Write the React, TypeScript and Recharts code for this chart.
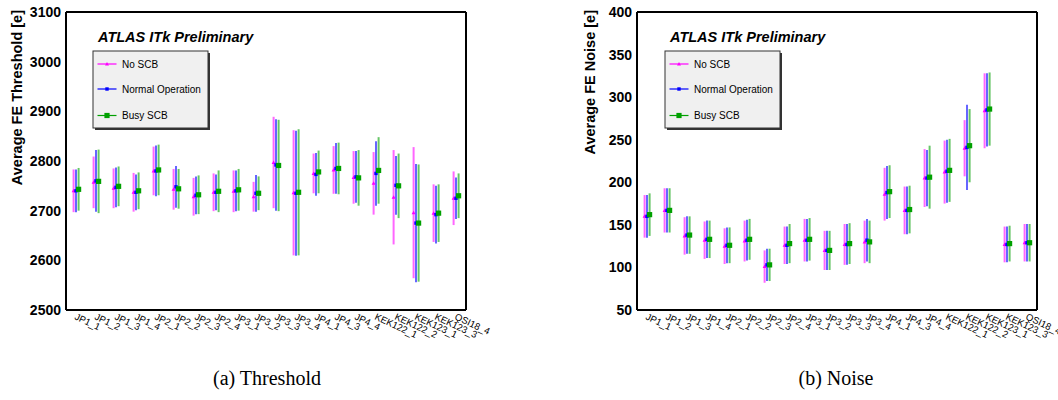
import { ScatterChart, Scatter, XAxis, YAxis, ErrorBar } from 'recharts'

const FONT = '"Liberation Sans", Arial, Helvetica, sans-serif'
const SERIF = '"Liberation Serif", "Times New Roman", serif'

/* ----------  bins  ---------- */
const binLabels = [
  'JP1_1', 'JP1_2', 'JP1_3', 'JP1_4',
  'JP2_1', 'JP2_2', 'JP2_3', 'JP2_4',
  'JP3_1', 'JP3_2', 'JP3_3', 'JP3_4',
  'JP4_1', 'JP4_3', 'JP4_4',
  'KEK122_1', 'KEK122_2', 'KEK123_1', 'KEK123_3',
  'QSI18_4',
]
const binIndex = binLabels.map((_, i) => i + 1)

/* ----------  threshold [e]  ---------- */
const thrNoScb = [2740, 2757, 2745, 2737, 2780, 2743, 2728, 2737, 2739, 2728, 2797, 2736, 2775, 2782, 2767, 2755, 2727, 2696, 2695, 2725]
const thrNoScbErr = [43, 52, 40, 39, 49, 41, 38, 38, 42, 30, 92, 126, 40, 48, 53, 63, 95, 132, 58, 54]
const thrNormal = [2740, 2760, 2747, 2737, 2780, 2748, 2731, 2737, 2740, 2735, 2792, 2735, 2773, 2785, 2768, 2775, 2751, 2675, 2692, 2725]
const thrNormalErr = [43, 62, 40, 36, 51, 42, 38, 36, 41, 37, 92, 126, 43, 51, 52, 65, 59, 119, 58, 42]
const thrBusy = [2743, 2759, 2749, 2740, 2782, 2744, 2732, 2739, 2742, 2735, 2791, 2737, 2778, 2785, 2766, 2781, 2750, 2675, 2695, 2730]
const thrBusyErr = [43, 64, 40, 37, 51, 40, 39, 42, 42, 34, 92, 127, 43, 52, 56, 67, 65, 118, 58, 45]

const thrTicks = [2500, 2600, 2700, 2800, 2900, 3000, 3100]
const thrMinor = Array.from({ length: 31 }, (_, i) => 2500 + i * 20)

/* ----------  noise [e]  ---------- */
const noiseNoScb = [160, 167, 137, 132, 125, 131, 101, 126, 132, 120, 127, 130, 186, 167, 205, 212, 240, 284, 127, 129]
const noiseNoScbErr = [25, 26, 22, 22, 21, 24, 19, 22, 25, 23, 24, 25, 31, 28, 34, 37, 33, 44, 21, 22]
const noiseNormal = [160, 167, 138, 133, 126, 132, 103, 126, 132, 120, 127, 132, 188, 167, 205, 213, 241, 285, 127, 129]
const noiseNormalErr = [25, 26, 22, 22, 21, 24, 19, 22, 25, 23, 24, 25, 31, 28, 33, 37, 50, 43, 21, 22]
const noiseBusy = [162, 167, 138, 133, 126, 133, 103, 128, 133, 120, 128, 130, 189, 168, 206, 214, 243, 286, 128, 129]
const noiseBusyErr = [25, 26, 22, 22, 21, 24, 19, 23, 25, 23, 24, 25, 31, 28, 37, 37, 43, 43, 21, 22]

const noiseTicks = [50, 100, 150, 200, 250, 300, 350, 400]
const noiseMinor = Array.from({ length: 36 }, (_, i) => 50 + i * 10)

/* ----------  Serien-Stil  ---------- */
const SERIES = [
  { name: 'No SCB', color: '#ff00ff', dx: -0.12, kind: 'tri' },
  { name: 'Normal Operation', color: '#0000ff', dx: 0, kind: 'sq' },
  { name: 'Busy SCB', color: '#00a000', dx: 0.13, kind: 'big' },
]

const rows = (means: number[], errs: number[], dx: number) =>
  means.map((y, i) => ({ x: binIndex[i] + dx, y, err: errs[i] }))

function Marker({ cx, cy, kind, color }: any) {
  if (cx == null || cy == null) return null
  if (kind === 'tri')
    return <polygon points={`${cx},${cy - 2} ${cx - 2},${cy + 1.5} ${cx + 2},${cy + 1.5}`} fill={color} />
  const s = kind === 'big' ? 2.6 : 1.7
  return <rect x={cx - s} y={cy - s} width={2 * s} height={2 * s} fill={color} />
}

function XTick({ x, y, payload }: any) {
  const name = binLabels[payload.value - 1]
  if (!name) return null
  return (
    <text
      transform={`translate(${x - 2},${y + 9}) rotate(25)`}
      fontSize={9.5}
      fontFamily={FONT}
      fill="#000"
      textAnchor="start"
    >
      {name}
    </text>
  )
}

interface PanelProps {
  left: number
  width: number
  axisWidth: number
  domain: [number, number]
  ticks: number[]
  minor: number[]
  data: { means: number[]; errs: number[] }[]
}

function Panel({ left, width, axisWidth, domain, ticks, minor, data }: PanelProps) {
  const frame = { stroke: '#000', strokeWidth: 2 }
  const tl = { stroke: '#000', strokeWidth: 1.5 }
  const xDom: [number, number] = [0.5, binLabels.length + 0.5]
  return (
    <div style={{ position: 'absolute', left, top: 0 }}>
      <ScatterChart
        width={width}
        height={400}
        margin={{ top: 12, right: width - axisWidth - 400, bottom: 30, left: 0 }}
      >
        {/* data axes */}
        <XAxis
          xAxisId="x"
          type="number"
          dataKey="x"
          domain={xDom}
          allowDataOverflow
          ticks={binIndex}
          interval={0}
          height={60}
          tickSize={0}
          tickMargin={0}
          tickLine={false}
          axisLine={frame}
          tick={<XTick />}
        />
        <YAxis
          yAxisId="y"
          type="number"
          dataKey="y"
          domain={domain}
          allowDataOverflow
          ticks={ticks}
          interval={0}
          width={axisWidth}
          tickSize={0}
          tickMargin={5}
          tickLine={false}
          axisLine={frame}
          tick={{ fontSize: 14, fontWeight: 700, fill: '#000', fontFamily: FONT }}
        />
        {/* ROOT-Ticks nach innen */}
        <XAxis xAxisId="xb" type="number" domain={xDom} allowDataOverflow ticks={binIndex} interval={0}
          mirror tick={false} tickSize={8} axisLine={false} tickLine={tl} />
        <XAxis xAxisId="xt" orientation="top" type="number" domain={xDom} allowDataOverflow ticks={binIndex} interval={0}
          mirror tick={false} tickSize={7} axisLine={frame} tickLine={tl} />
        <YAxis yAxisId="ymaj" type="number" domain={domain} allowDataOverflow ticks={ticks} interval={0}
          mirror tick={false} tickSize={12} axisLine={false} tickLine={tl} />
        <YAxis yAxisId="ymin" type="number" domain={domain} allowDataOverflow ticks={minor} interval={0}
          mirror tick={false} tickSize={7} axisLine={false} tickLine={tl} />
        <YAxis yAxisId="rmaj" orientation="right" type="number" domain={domain} allowDataOverflow ticks={ticks} interval={0}
          mirror tick={false} tickSize={12} axisLine={frame} tickLine={tl} />
        <YAxis yAxisId="rmin" orientation="right" type="number" domain={domain} allowDataOverflow ticks={minor} interval={0}
          mirror tick={false} tickSize={7} axisLine={false} tickLine={tl} />

        {SERIES.map((s, k) => (
          <Scatter
            key={s.name}
            name={s.name}
            xAxisId="x"
            yAxisId="y"
            data={rows(data[k].means, data[k].errs, s.dx)}
            isAnimationActive={false}
            shape={(p: any) => <Marker {...p} kind={s.kind} color={s.color} />}
          >
            <ErrorBar dataKey="err" direction="y" width={0} stroke={s.color} strokeWidth={2} strokeOpacity={0.6} isAnimationActive={false} />
          </Scatter>
        ))}
      </ScatterChart>
    </div>
  )
}

function LegendBox({ x, y }: { x: number; y: number }) {
  const rowsY = [13, 38, 64.5]
  return (
    <g transform={`translate(${x},${y})`}>
      <rect x={2} y={2} width={115} height={77} fill="#333" />
      <rect x={0} y={0} width={115} height={77} fill="#f0f0f0" stroke="#333" strokeWidth={1} />
      {SERIES.map((s, i) => (
        <g key={s.name}>
          <line x1={4.5} x2={23.5} y1={rowsY[i]} y2={rowsY[i]} stroke={s.color} strokeWidth={1.2} />
          <Marker cx={14} cy={rowsY[i]} kind={s.kind} color={s.color} />
          <text x={29} y={rowsY[i] + 3.5} fontSize={10} fontFamily={FONT} fill="#000">
            {s.name}
          </text>
        </g>
      ))}
    </g>
  )
}

export default function App() {
  return (
    <div style={{ position: 'absolute', left: 0, top: 0, width: 1058, height: 400, background: '#fff', overflow: 'hidden' }}>
      <Panel
        left={0}
        width={540}
        axisWidth={66}
        domain={[2500, 3100]}
        ticks={thrTicks}
        minor={thrMinor}
        data={[
          { means: thrNoScb, errs: thrNoScbErr },
          { means: thrNormal, errs: thrNormalErr },
          { means: thrBusy, errs: thrBusyErr },
        ]}
      />
      <Panel
        left={540}
        width={518}
        axisWidth={97}
        domain={[50, 400]}
        ticks={noiseTicks}
        minor={noiseMinor}
        data={[
          { means: noiseNoScb, errs: noiseNoScbErr },
          { means: noiseNormal, errs: noiseNormalErr },
          { means: noiseBusy, errs: noiseBusyErr },
        ]}
      />
      <svg width={1058} height={400} style={{ position: 'absolute', left: 0, top: 0, pointerEvents: 'none' }}>
        <text transform="translate(21.5,10) rotate(-90)" textAnchor="end" fontSize={14.5} fontWeight={700} fontFamily={FONT}>
          Average FE Threshold [e]
        </text>
        <text transform="translate(594.5,10) rotate(-90)" textAnchor="end" fontSize={14.5} fontWeight={700} fontFamily={FONT}>
          Average FE Noise [e]
        </text>
        <text x={98} y={42} fontSize={14.5} fontWeight={700} fontStyle="italic" fontFamily={FONT}>
          ATLAS ITk Preliminary
        </text>
        <text x={670} y={42} fontSize={14.5} fontWeight={700} fontStyle="italic" fontFamily={FONT}>
          ATLAS ITk Preliminary
        </text>
        <LegendBox x={93} y={51} />
        <LegendBox x={665} y={51} />
        <text x={267} y={385} textAnchor="middle" fontSize={20} fontFamily={SERIF}>
          (a) Threshold
        </text>
        <text x={836} y={385} textAnchor="middle" fontSize={20} fontFamily={SERIF}>
          (b) Noise
        </text>
      </svg>
    </div>
  )
}
